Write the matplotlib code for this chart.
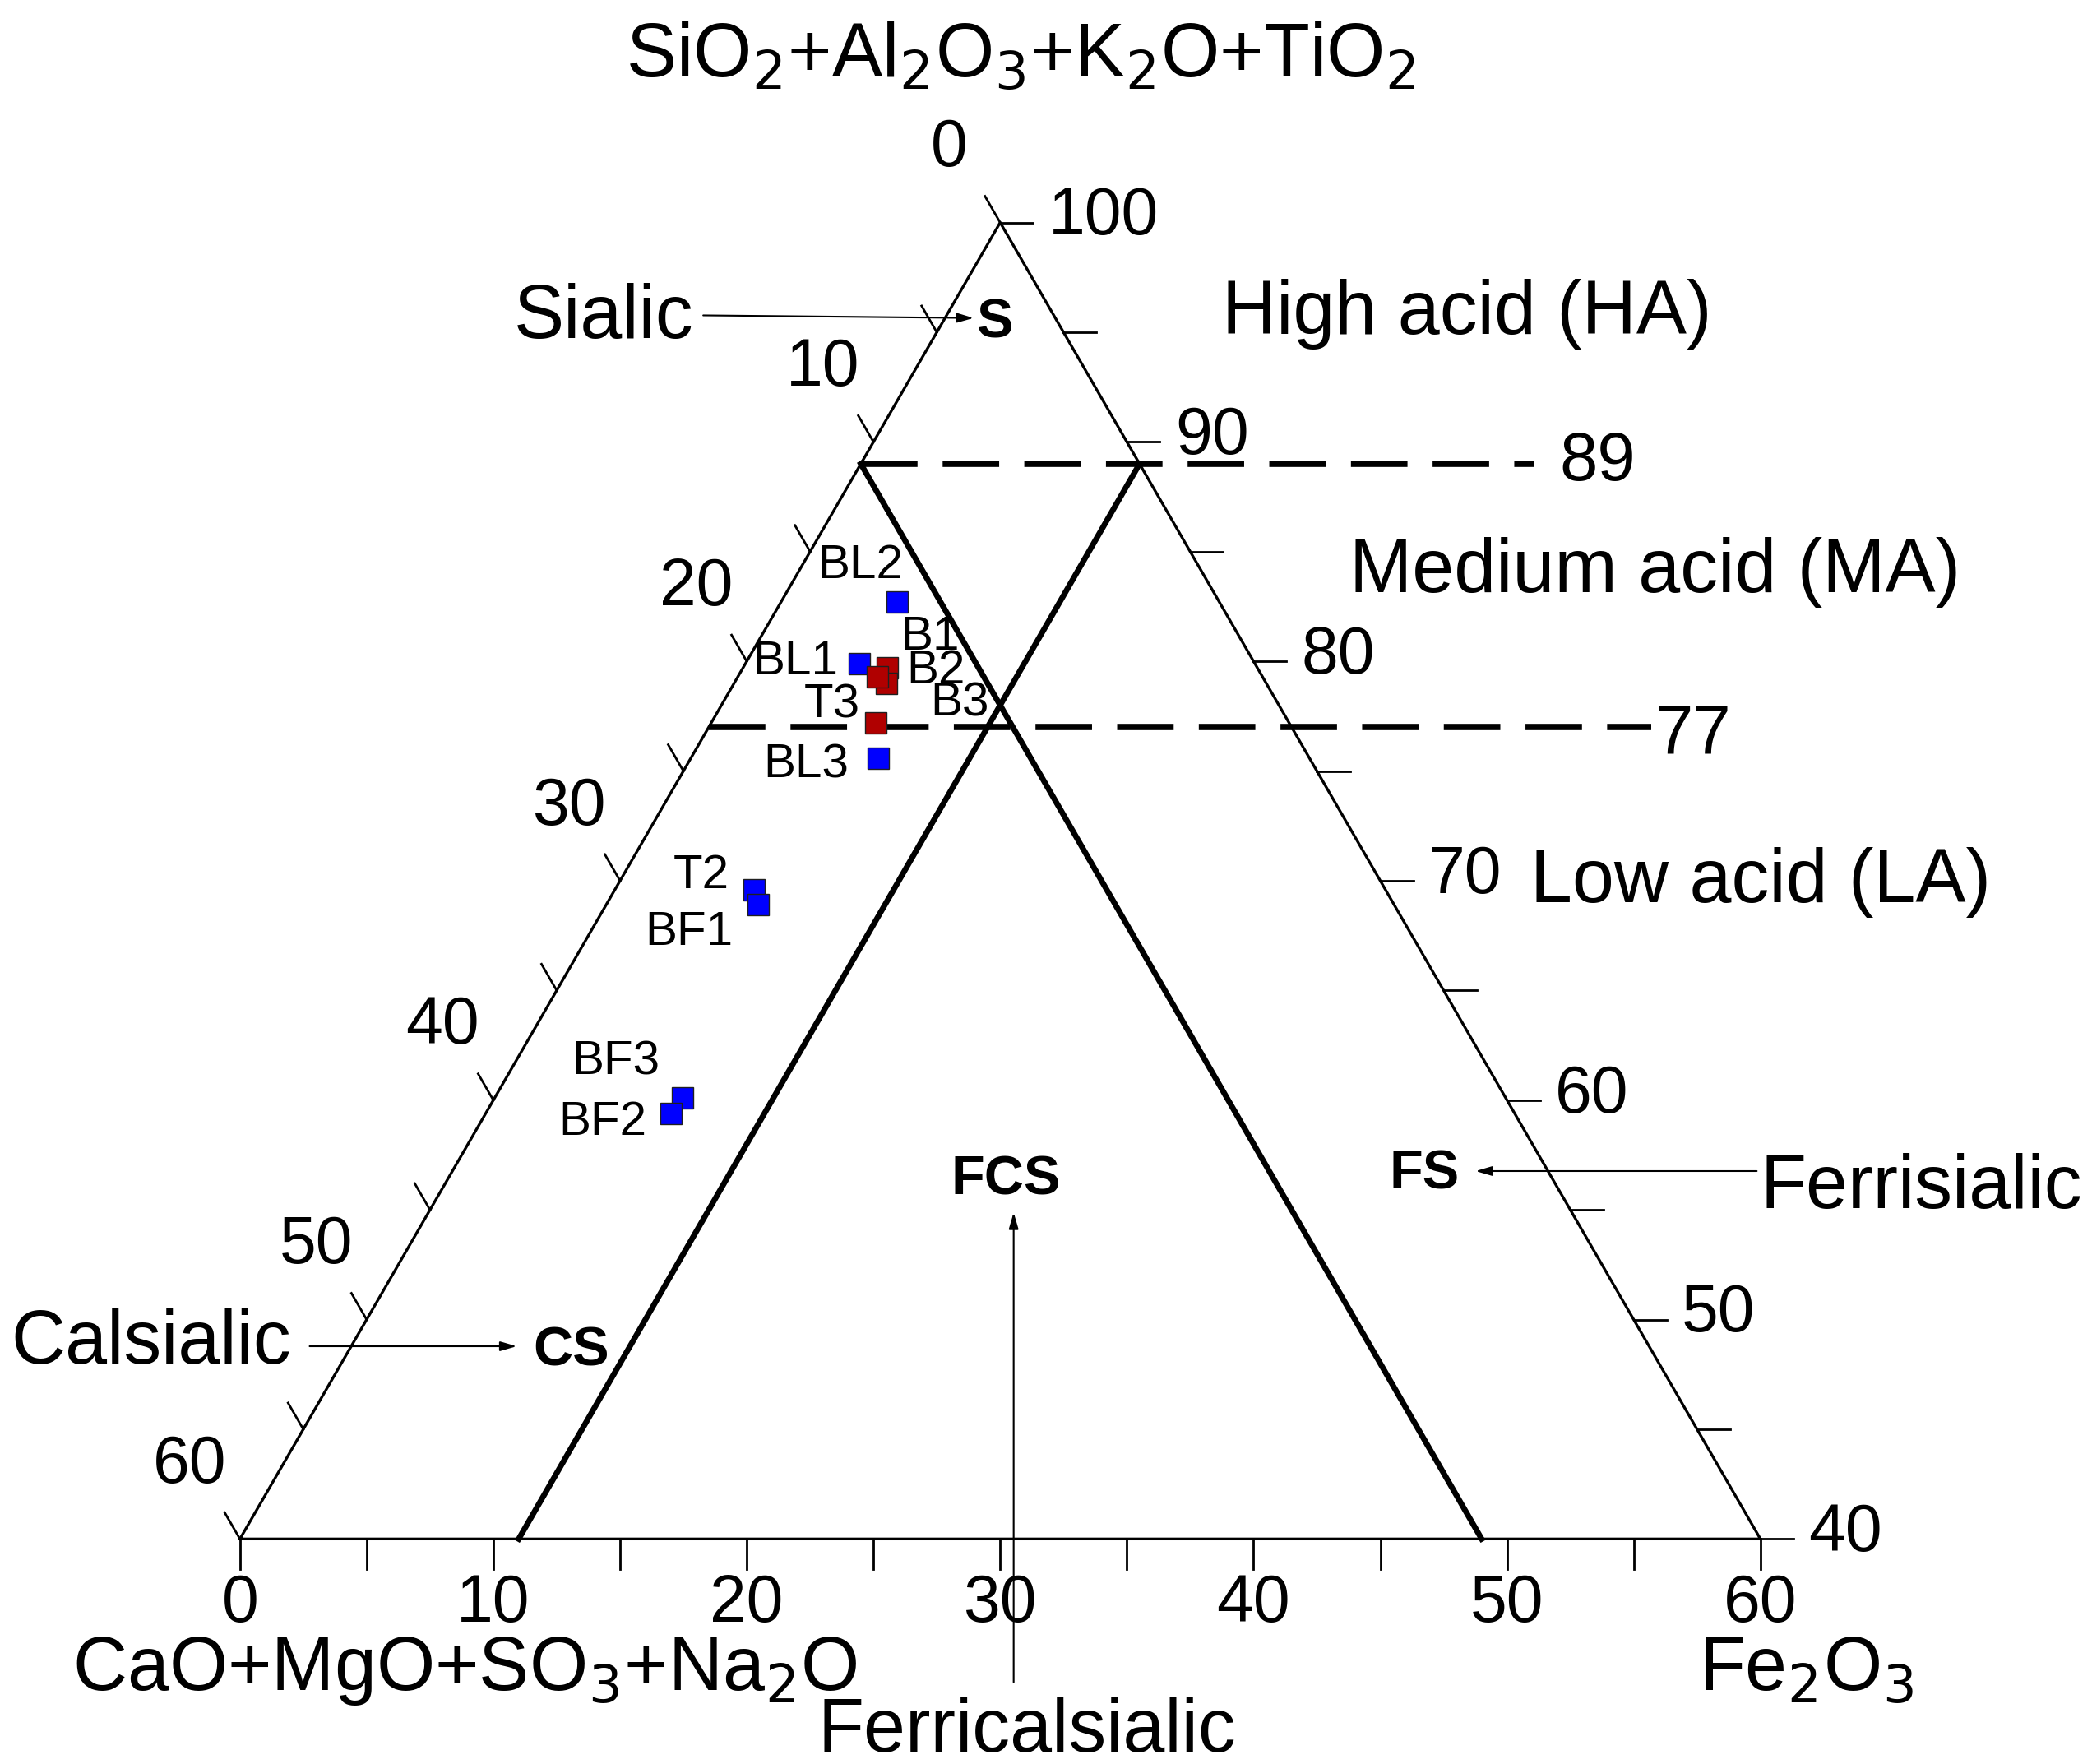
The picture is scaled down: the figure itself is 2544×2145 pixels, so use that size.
import numpy as np
import matplotlib.pyplot as plt

plt.rcParams["font.family"] = ["Liberation Sans", "DejaVu Sans"]

# sample compositions (wt% of the three poles)
names = ["BL2", "BL1", "BL3", "T2", "BF1", "BF3", "BF2", "B1", "B2", "B3", "T3"]
sio2 = [82.7, 79.9, 75.6, 69.6, 68.9, 60.1, 59.4, 79.7, 79.0, 79.3, 77.2]
fe2o3 = [4.6, 4.5, 7.4, 5.5, 6.0, 7.4, 7.3, 5.7, 6.0, 5.5, 6.5]
colors = ["#0000ff"] * 7 + ["#b00000"] * 4
label_px = [(638, 420), (590, 491), (598, 568), (520, 650), (511, 692),
            (457, 788), (447, 833), (690, 473), (694, 498), (712, 522), (617, 523)]

left_ticks = [0, 10, 20, 30, 40, 50, 60]
bottom_ticks = [0, 10, 20, 30, 40, 50, 60]
right_ticks = [100, 90, 80, 70, 60, 50, 40]
h = np.sqrt(3) / 2


def xy(s, f):
    s = np.asarray(s, float); f = np.asarray(f, float)
    return f + (s - 40) / 2, (s - 40) * h


def px(x, y):
    # reference-picture pixel -> data coordinates
    return (x - 178) / 18.8, (1142 - y) / 18.8


fig = plt.figure(figsize=(25.44, 21.45), dpi=100)
ax = fig.add_axes([0, 0, 1, 1])
ax.set_xlim(px(0, 0)[0], px(1552, 0)[0])
ax.set_ylim(px(0, 1309)[1], px(0, 0)[1])
ax.axis("off")

k = "black"
# triangle frame
tx, ty = xy([40, 100, 40, 40], [0, 0, 60, 0])
ax.plot(tx, ty, color=k, lw=2.4)

# field boundaries
x1, y1 = xy([89, 40], [0, 49])
ax.plot(x1, y1, color=k, lw=5)
x2, y2 = xy([89, 40], [11, 11])
ax.plot(x2, y2, color=k, lw=5)
dash = dict(color=k, lw=5.5, dashes=(9, 4))
ax.plot([xy(89, 0)[0], px(1138, 0)[0]], [xy(89, 0)[1]] * 2, **dash)
ax.plot([xy(77, 0)[0], px(1225, 0)[0]], [xy(77, 0)[1]] * 2, **dash)
ax.text(*px(1157, 343), "89", fontsize=60, va="center")
ax.text(*px(1228, 545), "77", fontsize=60, va="center")

# ticks
for v in range(0, 61, 5):
    L = 1.2
    x0, y0 = xy(100 - v, 0)          # left axis
    ax.plot([x0, x0 - 0.5 * L], [y0, y0 + h * L], color=k, lw=2)
    ax.plot([v, v], [0, -L], color=k, lw=2)   # bottom axis
    x0, y0 = xy(100 - v, v)          # right axis
    ax.plot([x0, x0 + 1.3], [y0, y0], color=k, lw=2)
for v in left_ticks:
    x0, y0 = xy(100 - v, 0)
    ax.text(x0 - 2.0, y0 + 2.9, str(v), fontsize=58, ha="center", va="center")
for v in bottom_ticks:
    ax.text(v, -2.6, str(v), fontsize=58, ha="center", va="center")
for v in right_ticks:
    x0, y0 = xy(v, 100 - v)
    ax.text(x0 + 1.9, y0 + 0.2, str(v), fontsize=58, ha="left", va="center")

# axis titles
ax.text(*px(757, 42), "SiO$_2$+Al$_2$O$_3$+K$_2$O+TiO$_2$", fontsize=66, ha="center", va="center")
ax.text(*px(345, 1240), "CaO+MgO+SO$_3$+Na$_2$O", fontsize=66, ha="center", va="center")
ax.text(*px(1340, 1240), "Fe$_2$O$_3$", fontsize=66, ha="center", va="center")
plt.rcParams["mathtext.fontset"] = "custom"

# region names
big = dict(fontsize=66, va="center")
ax.text(*px(1088, 233), "High acid (HA)", ha="center", **big)
ax.text(*px(1228, 425), "Medium acid (MA)", ha="center", **big)
ax.text(*px(1306, 655), "Low acid (LA)", ha="center", **big)
ax.text(*px(448, 236), "Sialic", ha="center", **big)
ax.text(*px(112, 997), "Calsialic", ha="center", **big)
ax.text(*px(1425, 882), "Ferrisialic", ha="center", **big)
ax.text(*px(762, 1285), "Ferricalsialic", ha="center", **big)
bold = dict(fontsize=48, fontweight="bold", ha="center", va="center")
ax.text(*px(738, 240), "S", **bold)
ax.text(*px(424, 1003), "CS", **bold)
ax.text(*px(746, 876), "FCS", **bold)
ax.text(*px(1057, 872), "FS", **bold)
arr = dict(arrowstyle="-|>,head_length=1.2,head_width=0.35", color=k, lw=1.5)
for a, b in [((520, 234), (724, 236)), ((228, 999), (385, 999)),
             ((752, 1250), (752, 898)), ((1305, 869), (1093, 869))]:
    ax.annotate("", xy=px(*b), xytext=px(*a), arrowprops=arr)

# samples
sx, sy = xy(sio2, fe2o3)
for i, n in enumerate(names):
    ax.plot(sx[i], sy[i], "s", ms=19, color=colors[i], mec="#202020", mew=1)
    ax.text(*px(*label_px[i]), n, fontsize=42, ha="center", va="center")

fig.savefig("out.png", dpi=100)
